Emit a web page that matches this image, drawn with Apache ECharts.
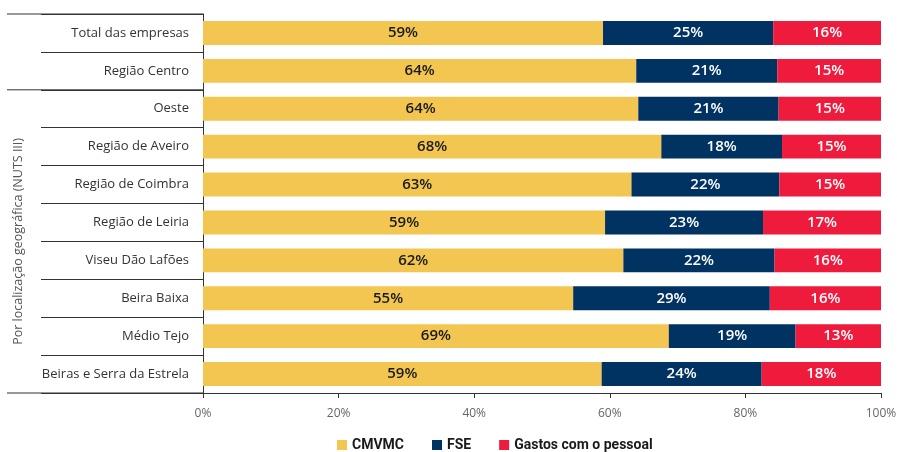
<!DOCTYPE html>
<html>
<head>
<meta charset="utf-8">
<script src="https://cdn.jsdelivr.net/npm/echarts@6/dist/echarts.min.js"></script>
<style>
  html, body { margin: 0; padding: 0; background: #fff; }
  #chart { width: 897px; height: 452px; }
</style>
</head>
<body>
<div id="chart"></div>
<script>
// Estrutura de gastos por região (% do total)
const categories = [
  'Total das empresas', 'Região Centro', 'Oeste', 'Região de Aveiro',
  'Região de Coimbra', 'Região de Leiria', 'Viseu Dão Lafões',
  'Beira Baixa', 'Médio Tejo', 'Beiras e Serra da Estrela'
];
const cmvmc   = [59.0, 63.9, 64.2, 67.6, 63.2, 59.3, 62.0, 54.6, 68.7, 58.8];
const fse     = [25.1, 20.8, 20.7, 17.8, 21.8, 23.3, 22.3, 29.0, 18.7, 23.6];
const pessoal = [15.9, 15.3, 15.1, 14.6, 15.0, 17.4, 15.7, 16.4, 12.6, 17.6];
const xTicks = [0, 20, 40, 60, 80, 100];
const seriesNames = ['CMVMC', 'FSE', 'Gastos com o pessoal'];
const axisTitle = 'Por localização geográfica (NUTS III)';

const colors = ['#F2C651', '#003262', '#EE1B3D'];
const lineColor = '#333333';
const baseFont = '"Open Sans", "Noto Sans", sans-serif';
const legendFont = 'Roboto, "Liberation Sans", sans-serif';

const chart = echarts.init(document.getElementById('chart'), null, { renderer: 'canvas' });

function barSeries(name, data, idx) {
  return {
    name: name,
    type: 'bar',
    stack: 'total',
    data: data,
    barCategoryGap: '37%',
    itemStyle: { color: colors[idx] },
    label: {
      show: true,
      position: 'inside',
      formatter: p => Math.round(p.value) + '%',
      color: idx === 0 ? '#1a1a1a' : '#ffffff',
      fontFamily: baseFont,
      fontWeight: 600,
      fontSize: 15
    },
    emphasis: { disabled: true }
  };
}

const option = {
  animation: false,
  backgroundColor: '#ffffff',
  grid: {
    left: 203, right: 16, top: 14, bottom: 59,
    containLabel: false,
    outerBoundsMode: 'none'
  },
  xAxis: {
    type: 'value',
    min: 0,
    max: 100,
    interval: 20,
    axisLine: { show: true, lineStyle: { color: lineColor, width: 1 } },
    axisTick: { show: true, length: 5, lineStyle: { color: lineColor } },
    splitLine: { show: false },
    axisLabel: {
      formatter: v => xTicks.includes(v) ? v + '%' : '',
      color: '#666666',
      fontFamily: baseFont,
      fontSize: 12,
      margin: 15
    }
  },
  yAxis: {
    type: 'category',
    data: categories,
    inverse: true,
    axisLine: { show: true, lineStyle: { color: lineColor, width: 1 } },
    axisTick: { show: true, length: 162, lineStyle: { color: lineColor, width: 1 } },
    axisLabel: {
      color: '#333333',
      fontFamily: baseFont,
      fontSize: 13,
      margin: 14
    }
  },
  legend: {
    data: seriesNames,
    left: 332,
    top: 433,
    itemWidth: 10,
    itemHeight: 10,
    itemGap: 28,
    icon: 'rect',
    textStyle: {
      color: '#1a1a1a',
      fontFamily: legendFont,
      fontWeight: 'bold',
      fontSize: 14
    }
  },
  series: [
    barSeries(seriesNames[0], cmvmc, 0),
    barSeries(seriesNames[1], fse, 1),
    barSeries(seriesNames[2], pessoal, 2)
  ]
};

chart.setOption(option);

// Longer separator lines (group boundaries) and the rotated group title,
// positioned from the category axis.
const y0 = chart.convertToPixel({ yAxisIndex: 0 }, categories[0]);
const y1 = chart.convertToPixel({ yAxisIndex: 0 }, categories[1]);
const step = y1 - y0;
const topEdge = y0 - step / 2;
const groupEdge = y0 + step * 1.5;
const bottomEdge = y0 + step * (categories.length - 0.5);
const axisX = chart.convertToPixel({ xAxisIndex: 0 }, 0);
const lineStart = 7;

chart.setOption({
  graphic: [
    { type: 'line', shape: { x1: lineStart, y1: topEdge, x2: axisX, y2: topEdge },
      style: { stroke: lineColor, lineWidth: 1 }, silent: true },
    { type: 'line', shape: { x1: lineStart, y1: groupEdge, x2: axisX, y2: groupEdge },
      style: { stroke: lineColor, lineWidth: 1 }, silent: true },
    { type: 'line', shape: { x1: lineStart, y1: bottomEdge, x2: axisX, y2: bottomEdge },
      style: { stroke: lineColor, lineWidth: 1 }, silent: true },
    { type: 'text', x: 18, y: (groupEdge + bottomEdge) / 2, rotation: Math.PI / 2,
      style: { text: axisTitle, fill: '#555555', font: '12.5px ' + baseFont,
               align: 'center', verticalAlign: 'middle' }, silent: true }
  ]
});
</script>
</body>
</html>
